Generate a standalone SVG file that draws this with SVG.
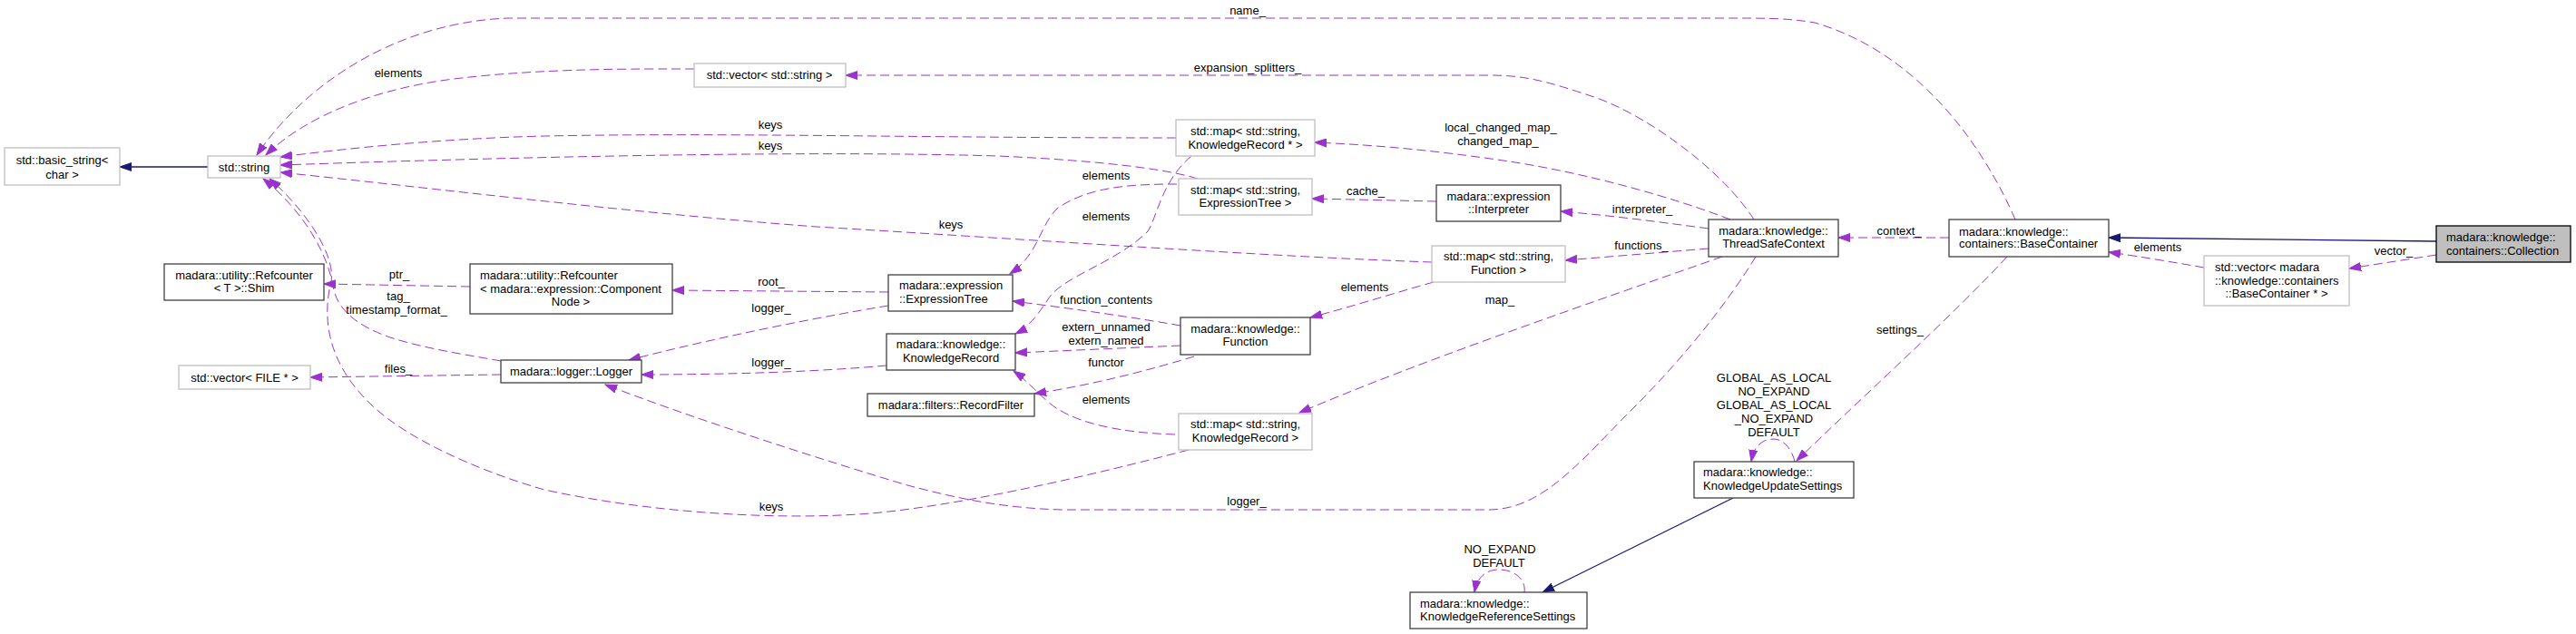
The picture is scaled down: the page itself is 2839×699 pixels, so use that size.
<svg xmlns="http://www.w3.org/2000/svg" width="2839" height="699" viewBox="0 0 2839 699">
<style>
text{font-family:"Liberation Sans",Arial,Helvetica,sans-serif;font-size:13px;fill:#000}
.c{text-anchor:middle}
.nd rect{fill:#fff;stroke:#404040;stroke-width:1.3}
.ug rect{fill:#fff;stroke:#bfbfbf;stroke-width:1.3}
.e{fill:none;stroke:#9a32cd;stroke-width:1;stroke-dasharray:10,5;marker-end:url(#ap)}
.i{fill:none;stroke:#191970;stroke-width:1.3;marker-end:url(#ab)}
</style>
<defs>
<marker id="ap" markerUnits="userSpaceOnUse" markerWidth="14" markerHeight="10" refX="13" refY="5" orient="auto" viewBox="0 0 14 10"><path d="M0,0.5 L13,5 L0,9.5z" fill="#9a32cd" stroke="#9a32cd" stroke-dasharray="none"/></marker>
<marker id="ab" markerUnits="userSpaceOnUse" markerWidth="14" markerHeight="10" refX="13" refY="5" orient="auto" viewBox="0 0 14 10"><path d="M0,0.5 L13,5 L0,9.5z" fill="#191970" stroke="#191970"/></marker>
</defs>
<rect width="2839" height="699" fill="#fff"/>

<g id="connectors">
<path class="i" d="M229,184 L132,184"/>
<path class="i" d="M2685,266 L2324,262"/>
<path class="i" d="M1910,549 L1700,653"/>

<path class="e" d="M2221,242 C2190,170 2120,60 2000,25 C1970,20 1950,20 1900,20 L560,20 C430,25 330,100 283,171"/>
<path class="e" d="M1933,242 C1900,190 1820,130 1760,108 C1700,88 1680,83 1640,83 L932,83"/>
<path class="e" d="M765,76 C700,76 600,75 500,87 C420,97 340,125 293,171"/>
<path class="e" d="M1296,152 C1000,152 800,146 600,150 C480,153 380,164 309,173"/>
<path class="e" d="M1320,197 C1290,188 1230,178 1100,172 C900,166 600,172 309,182"/>
<path class="e" d="M1578,289 C1400,283 1150,265 900,250 C700,235 500,210 309,190"/>
<path class="e" d="M1310,496 C1180,530 1050,558 960,566 C860,574 720,566 600,540 C530,520 450,485 410,447 C360,400 355,350 365,310 C370,280 335,230 297,197"/>
<path class="e" d="M552,398 C520,392 470,385 430,372 C390,358 373,340 368,320 C360,270 325,225 290,197"/>
<path class="e" d="M552,413 L342,416"/>
<path class="e" d="M518,316 L357,313"/>
<path class="e" d="M979,322 L741,320"/>
<path class="e" d="M979,337 C900,350 790,372 693,397"/>
<path class="e" d="M977,403 C900,410 800,413 707,413"/>
<path class="e" d="M1935,283 C1900,340 1850,400 1800,450 C1740,510 1700,562 1640,562 L1170,562 C1100,560 1050,548 1000,535 C900,505 760,460 667,424"/>
<path class="e" d="M1907,242 C1850,220 1750,190 1650,176 C1580,166 1520,160 1449,157"/>
<path class="e" d="M1883,252 C1830,245 1780,238 1720,233"/>
<path class="e" d="M1583,222 L1446,219"/>
<path class="e" d="M1883,274 L1725,287"/>
<path class="e" d="M1580,311 C1530,325 1490,338 1444,350"/>
<path class="e" d="M1898,283 C1750,335 1560,400 1432,455"/>
<path class="e" d="M1301,359 C1250,350 1180,340 1116,332"/>
<path class="e" d="M1301,381 L1119,389"/>
<path class="e" d="M1316,393 C1260,410 1200,425 1140,434"/>
<path class="e" d="M1295,479 C1230,477 1180,465 1155,443 C1140,430 1130,418 1117,409"/>
<path class="e" d="M1313,172 C1280,200 1275,240 1265,255 C1230,290 1170,305 1155,330 C1145,345 1135,360 1119,368"/>
<path class="e" d="M1297,203 C1250,203 1200,205 1165,230 C1145,250 1145,280 1113,302"/>
<path class="e" d="M2148,262 L2026,262"/>
<path class="e" d="M2212,283 C2150,350 2050,440 1980,508"/>
<path class="e" d="M1978,509 C1975,495 1965,484 1955,484 C1942,484 1933,492 1930,509"/>
<path class="e" d="M1680,653 C1682,640 1670,628 1652,628 C1638,628 1628,636 1625,653"/>
<path class="e" d="M2429,295 C2400,290 2360,283 2324,278"/>
<path class="e" d="M2685,281 L2589,296"/>

<g class="c">
<text x="1375" y="16">name_</text>
<text x="1375" y="79">expansion_splitters_</text>
<text x="439" y="85">elements</text>
<text x="849" y="142">keys</text>
<text x="849" y="165">keys</text>
<text x="1048" y="252">keys</text>
<text x="850" y="563">keys</text>
<text x="439" y="331">tag_</text>
<text x="437" y="346">timestamp_format_</text>
<text x="439" y="411">files_</text>
<text x="440" y="307">ptr_</text>
<text x="850" y="315">root_</text>
<text x="850" y="344">logger_</text>
<text x="850" y="404">logger_</text>
<text x="1374" y="557">logger_</text>
<text x="1654" y="145">local_changed_map_</text>
<text x="1651" y="160">changed_map_</text>
<text x="1810" y="235">interpreter_</text>
<text x="1505" y="215">cache_</text>
<text x="1809" y="275">functions_</text>
<text x="1504" y="321">elements</text>
<text x="1653" y="335">map_</text>
<text x="1219" y="335">function_contents</text>
<text x="1219" y="365">extern_unnamed</text>
<text x="1219" y="380">extern_named</text>
<text x="1219" y="404">functor</text>
<text x="1219" y="445">elements</text>
<text x="1219" y="243">elements</text>
<text x="1219" y="198">elements</text>
<text x="2093" y="259">context_</text>
<text x="2094" y="368">settings_</text>
<text x="1955" y="421">GLOBAL_AS_LOCAL</text>
<text x="1955" y="436">NO_EXPAND</text>
<text x="1955" y="451">GLOBAL_AS_LOCAL</text>
<text x="1955" y="466">_NO_EXPAND</text>
<text x="1955" y="481">DEFAULT</text>
<text x="1653" y="610">NO_EXPAND</text>
<text x="1652" y="625">DEFAULT</text>
<text x="2378" y="277">elements</text>
<text x="2638" y="281">vector_</text>
</g>
</g>

<g id="n_basic_string" class="ug"><rect x="5" y="163" width="127" height="41"/><text class="c" x="68.5" y="180.5">std::basic_string&lt;</text><text class="c" x="68.5" y="196.5">char &gt;</text></g>
<g id="n_string" class="ug"><rect x="229" y="172" width="80" height="24"/><text class="c" x="269" y="188.5">std::string</text></g>
<g id="n_shim" class="nd"><rect x="181" y="291" width="176" height="40"/><text class="c" x="269" y="307.5">madara::utility::Refcounter</text><text class="c" x="269" y="321.5">&lt; T &gt;::Shim</text></g>
<g id="n_vector_file" class="ug"><rect x="197" y="403" width="145" height="26"/><text class="c" x="269.5" y="420.5">std::vector&lt; FILE * &gt;</text></g>
<g id="n_vector_string" class="ug"><rect x="765" y="70" width="167" height="26"/><text class="c" x="848" y="86.5">std::vector&lt; std::string &gt;</text></g>
<g id="n_refcounter_cn" class="nd"><rect x="518" y="291" width="223" height="55"/><text x="529" y="307.5">madara::utility::Refcounter</text><text x="529" y="322.5">&lt; madara::expression::Component</text><text class="c" x="629" y="336.5">Node &gt;</text></g>
<g id="n_logger" class="nd"><rect x="552" y="397" width="155" height="25"/><text class="c" x="629.5" y="413.5">madara::logger::Logger</text></g>
<g id="n_map_kr_ptr" class="ug"><rect x="1296" y="132" width="153" height="40"/><text class="c" x="1372.5" y="148.5">std::map&lt; std::string,</text><text class="c" x="1372.5" y="163.5">KnowledgeRecord * &gt;</text></g>
<g id="n_map_et" class="ug"><rect x="1299" y="197" width="147" height="40"/><text class="c" x="1372.5" y="213.5">std::map&lt; std::string,</text><text class="c" x="1372.5" y="227.5">ExpressionTree &gt;</text></g>
<g id="n_expressiontree" class="nd"><rect x="979" y="303" width="137" height="40"/><text x="991" y="318.5">madara::expression</text><text x="991" y="333.5">::ExpressionTree</text></g>
<g id="n_knowledgerecord" class="nd"><rect x="977" y="368" width="142" height="40"/><text class="c" x="1048" y="383.5">madara::knowledge::</text><text class="c" x="1048" y="398.5">KnowledgeRecord</text></g>
<g id="n_recordfilter" class="nd"><rect x="956" y="434" width="184" height="25"/><text class="c" x="1048" y="450.5">madara::filters::RecordFilter</text></g>
<g id="n_function" class="nd"><rect x="1301" y="350" width="143" height="41"/><text class="c" x="1372.5" y="367">madara::knowledge::</text><text class="c" x="1372.5" y="381">Function</text></g>
<g id="n_map_kr" class="ug"><rect x="1299" y="456" width="147" height="40"/><text class="c" x="1372.5" y="471.5">std::map&lt; std::string,</text><text class="c" x="1372.5" y="486.5">KnowledgeRecord &gt;</text></g>
<g id="n_interpreter" class="nd"><rect x="1583" y="204" width="137" height="40"/><text class="c" x="1651.5" y="220.5">madara::expression</text><text class="c" x="1651.5" y="234.5">::Interpreter</text></g>
<g id="n_map_function" class="ug"><rect x="1578" y="271" width="147" height="40"/><text class="c" x="1651.5" y="287">std::map&lt; std::string,</text><text class="c" x="1651.5" y="301.5">Function &gt;</text></g>
<g id="n_threadsafecontext" class="nd"><rect x="1883" y="242" width="143" height="41"/><text class="c" x="1954.5" y="259">madara::knowledge::</text><text class="c" x="1954.5" y="273">ThreadSafeContext</text></g>
<g id="n_kus" class="nd"><rect x="1867" y="509" width="176" height="40"/><text x="1877" y="525">madara::knowledge::</text><text x="1877" y="539.5">KnowledgeUpdateSettings</text></g>
<g id="n_krs" class="nd"><rect x="1554" y="653" width="195" height="40"/><text x="1565" y="669.5">madara::knowledge::</text><text x="1565" y="683.5">KnowledgeReferenceSettings</text></g>
<g id="n_basecontainer" class="nd"><rect x="2148" y="242" width="176" height="41"/><text x="2159" y="259.5">madara::knowledge::</text><text x="2159" y="273">containers::BaseContainer</text></g>
<g id="n_vector_bc" class="ug"><rect x="2429" y="282" width="160" height="55"/><text x="2441" y="298.5">std::vector&lt; madara</text><text x="2441" y="313.5">::knowledge::containers</text><text class="c" x="2509" y="327.5">::BaseContainer * &gt;</text></g>
<g id="n_collection"><rect x="2685" y="249" width="148" height="40" fill="#bfbfbf" stroke="#000" stroke-width="1.3"/><text x="2696" y="265.5">madara::knowledge::</text><text x="2696" y="280.5">containers::Collection</text></g>
</svg>
